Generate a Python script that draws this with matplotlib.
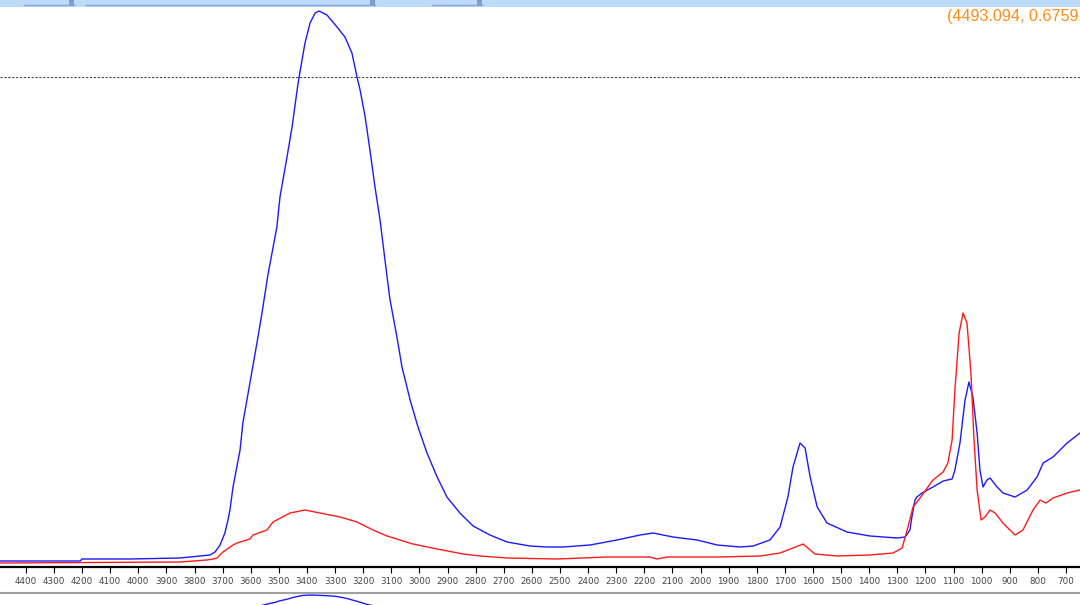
import matplotlib.pyplot as plt
from matplotlib.patches import Rectangle
from matplotlib.lines import Line2D

# espectro azul (número de onda cm-1, absorbancia)
wn_azul = [4492, 4207, 4200, 4030, 3852, 3780, 3745, 3727, 3709, 3692, 3681, 3674,
           3663, 3638, 3628, 3603, 3578, 3560, 3539, 3507, 3496, 3471, 3453, 3435,
           3428, 3407, 3389, 3371, 3357, 3329, 3293, 3265, 3240, 3222, 3211, 3193,
           3176, 3158, 3140, 3115, 3105, 3080, 3062, 3033, 3005, 2973, 2937, 2902,
           2856, 2809, 2749, 2688, 2607, 2546, 2489, 2393, 2297, 2215, 2169, 2098,
           2012, 1941, 1859, 1813, 1753, 1717, 1689, 1671, 1646, 1628, 1610, 1585,
           1550, 1479, 1397, 1301, 1272, 1255, 1248, 1237, 1230, 1212, 1173, 1137,
           1105, 1095, 1077, 1059, 1045, 1031, 1016, 1006, 995, 981, 970, 945,
           924, 881, 838, 803, 781, 746, 696, 650]
abs_azul = [0.006, 0.006, 0.008, 0.008, 0.009, 0.011, 0.012, 0.015, 0.022, 0.034, 0.047, 0.057,
            0.080, 0.117, 0.144, 0.184, 0.224, 0.254, 0.292, 0.340, 0.370, 0.410, 0.440, 0.477,
            0.490, 0.524, 0.544, 0.554, 0.556, 0.552, 0.540, 0.530, 0.514, 0.490, 0.477, 0.450,
            0.417, 0.380, 0.347, 0.290, 0.268, 0.230, 0.200, 0.167, 0.140, 0.114, 0.090, 0.070,
            0.054, 0.041, 0.032, 0.025, 0.021, 0.020, 0.020, 0.022, 0.027, 0.032, 0.034, 0.030,
            0.027, 0.022, 0.020, 0.021, 0.027, 0.040, 0.070, 0.100, 0.124, 0.119, 0.090, 0.060,
            0.044, 0.035, 0.031, 0.029, 0.030, 0.037, 0.050, 0.067, 0.070, 0.074, 0.080, 0.086,
            0.088, 0.097, 0.124, 0.167, 0.185, 0.170, 0.134, 0.097, 0.080, 0.087, 0.089, 0.080,
            0.074, 0.070, 0.077, 0.090, 0.104, 0.110, 0.124, 0.134]

# espectro rojo
wn_rojo = [4492, 3852, 3756, 3734, 3720, 3699, 3663, 3649, 3603, 3592, 3542, 3521,
           3460, 3407, 3354, 3282, 3222, 3165, 3115, 3023, 2937, 2845, 2784, 2688,
           2510, 2333, 2180, 2155, 2119, 1931, 1788, 1717, 1671, 1635, 1618, 1593,
           1514, 1397, 1315, 1283, 1262, 1244, 1219, 1173, 1137, 1120, 1105, 1095,
           1080, 1066, 1052, 1038, 1027, 1016, 1002, 988, 970, 952, 924, 881,
           853, 817, 792, 771, 746, 696, 650]
abs_rojo = [0.004, 0.005, 0.007, 0.008, 0.009, 0.015, 0.022, 0.024, 0.028, 0.032, 0.037, 0.045,
            0.054, 0.057, 0.054, 0.050, 0.045, 0.037, 0.031, 0.023, 0.018, 0.013, 0.011, 0.009,
            0.008, 0.010, 0.010, 0.008, 0.010, 0.010, 0.011, 0.014, 0.019, 0.023, 0.019, 0.013,
            0.011, 0.012, 0.014, 0.019, 0.040, 0.060, 0.069, 0.087, 0.095, 0.104, 0.127, 0.177,
            0.234, 0.254, 0.244, 0.194, 0.127, 0.077, 0.047, 0.050, 0.057, 0.054, 0.044, 0.032,
            0.037, 0.057, 0.067, 0.064, 0.069, 0.074, 0.077]

ticks = list(range(4400, 600, -100))
linea_ref = 0.490
cursor = "(4493.094, 0.67591)"

fig = plt.figure(figsize=(10.8, 6.05), dpi=100)

# barra superior de la ventana
fig.patches.append(Rectangle((0, 1 - 7 / 605), 1, 7 / 605, transform=fig.transFigure,
                             facecolor='#bfdbfc', edgecolor='none'))
for x0, x1 in [(24, 74), (86, 375), (432, 482)]:
    fig.lines.append(Line2D([x0 / 1080, x1 / 1080], [1 - 5 / 605] * 2, transform=fig.transFigure,
                            color='#7fa6dc', lw=1.0))
    fig.patches.append(Rectangle(((x1 - 5) / 1080, 1 - 6 / 605), 5 / 1080, 6 / 605,
                                 transform=fig.transFigure, facecolor='#7f9fc8', edgecolor='none'))

# gráfico principal
ax = fig.add_axes([0, 38 / 605, 1, 560 / 605])
ax.plot(wn_azul, abs_azul, color='#1a1aff', lw=1.0)
ax.plot(wn_rojo, abs_rojo, color='#ff1a1a', lw=1.0)
ax.axhline(linea_ref, color='#444444', lw=0.8, ls=(0, (2, 1.5)))
ax.set_xlim(4492, 650)
ax.set_ylim(0, 0.56)
ax.set_yticks([])
ax.set_xticks(ticks)
ax.set_xticklabels([str(t) for t in ticks])
ax.tick_params(axis='x', direction='out', length=4, width=0.8, labelsize=6.3,
               labelcolor='#444444', pad=3)
for s in ['top', 'left', 'right']:
    ax.spines[s].set_visible(False)
ax.spines['bottom'].set_linewidth(1.6)

fig.text(947 / 1080, 1 - 16 / 605, cursor, color='#ff8c1a', fontsize=11.6,
         va='center', ha='left', family='Liberation Sans')

# separador y vista general inferior
fig.lines.append(Line2D([0, 1], [12 / 605] * 2, transform=fig.transFigure, color='#a0a0a0', lw=1.5))
ax2 = fig.add_axes([0, 0, 1, 11 / 605])
ax2.plot(wn_azul, abs_azul, color='#1a1aff', lw=1.0)
ax2.set_xlim(4732, -57)
ax2.set_ylim(0.249, 0.590)
ax2.axis('off')

fig.savefig('out.png', dpi=100)
plt.close(fig)
